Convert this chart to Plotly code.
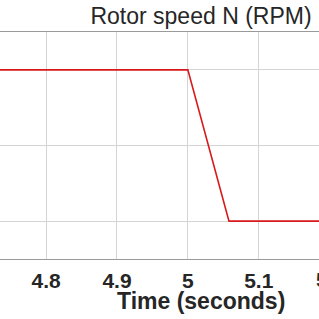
import plotly.graph_objects as go

# Data
time_s = [4.735, 5.0, 5.058, 5.185]
speed_rpm = [1500, 1500, 1400, 1400]
x_tick_vals = [4.8, 4.9, 5.0, 5.1]
x_tick_text = ["4.8", "4.9", "5", "5.1"]
y_tick_vals = [1400, 1450, 1500]

FONT = "Liberation Sans, Arial, sans-serif"

fig = go.Figure()
fig.add_trace(go.Scatter(x=time_s, y=speed_rpm, mode="lines",
                         line=dict(color="#d7191c", width=1.6), hoverinfo="skip"))

fig.update_layout(
    width=319, height=319,
    margin=dict(l=0, r=0, t=32, b=60),
    paper_bgcolor="white", plot_bgcolor="white",
    showlegend=False,
    title=dict(text="Rotor speed N (RPM)", x=201/319, xanchor="center",
               xref="container", y=1 - 16/319, yanchor="middle", yref="container",
               font=dict(family=FONT, size=23, color="#262626")),
)
fig.update_xaxes(range=[4.735, 5.185], tickvals=x_tick_vals, ticktext=x_tick_text,
                 showgrid=True, gridcolor="#d4d4d4", gridwidth=1,
                 showline=True, linecolor="#9a9a9a", linewidth=1, mirror=True,
                 ticks="", zeroline=False, ticklabelstandoff=3,
                 tickfont=dict(family=FONT, size=21, color="#262626", weight="bold"))
fig.update_yaxes(range=[1375, 1525], tickvals=y_tick_vals, showticklabels=False,
                 showgrid=True, gridcolor="#d4d4d4", gridwidth=1,
                 showline=False, ticks="", zeroline=False)

fig.add_annotation(x=330/319, xref="paper", y=-(279-259)/227, yref="paper",
                   text="<b>5.2</b>", showarrow=False, xanchor="center", yanchor="middle",
                   font=dict(family=FONT, size=21, color="#262626"))
fig.add_annotation(x=201/319, xref="paper", y=-(301-259)/227, yref="paper",
                   text="<b>Time (seconds)</b>", showarrow=False, xanchor="center",
                   yanchor="middle", font=dict(family=FONT, size=23, color="#262626"))

fig.write_html("out.html")
